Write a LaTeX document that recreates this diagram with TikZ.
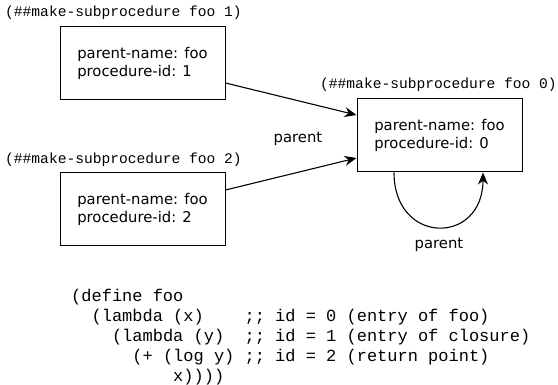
\documentclass[tikz,border=0pt]{standalone}
\usepackage{fontspec}
\setmainfont{DejaVu Sans}
\newfontfamily\codefont{Liberation Mono}
\usepackage{tikz}
\usetikzlibrary{arrows.meta}
\usetikzlibrary{positioning}

\begin{document}
\begin{tikzpicture}[x=1pt,y=-1pt,
		procbox/.style={draw,line width=1pt,minimum width=165pt,minimum height=73pt,align=left,font=\fontsize{14.8}{18}\selectfont},
		calltag/.style={font=\codefont\fontsize{14.6}{17}\selectfont,inner sep=0pt,anchor=west},
		codetext/.style={font=\codefont\fontsize{17}{20}\selectfont,inner sep=0pt,align=left,anchor=north west},
		ptr/.style={-{Stealth[length=12pt,width=10pt]},line width=1.1pt}]
			\useasboundingbox (0,0) rectangle (558,385);

			\node[procbox] (sub1) at (142.5,63) {parent-name: foo\\procedure-id: 1};
			\node[calltag] (tag1) at (5,13) {(\#\#make-subprocedure foo 1)};
			\node[procbox] (sub2) at (142.5,209.5) {parent-name: foo\\procedure-id: 2};
			\node[calltag] (tag2) at (5,160) {(\#\#make-subprocedure foo 2)};
			\node[procbox] (foo) at (439.5,135.5) {parent-name: foo\\procedure-id: 0};
			\node[calltag] (tag0) at (320,85) {(\#\#make-subprocedure foo 0)};

			\draw[ptr] ([yshift=-20pt]sub1.east) -- ([yshift=20.5pt]foo.west);
			\draw[ptr] ([yshift=19.5pt]sub2.east) -- ([yshift=-22.5pt]foo.west);
			\node[font=\fontsize{14.8}{18}\selectfont] (up) at (298,139) {parent};

			\draw[ptr] ([xshift=-45.5pt]foo.south) to[out=-90,in=-90,looseness=2.1] ([xshift=43.5pt]foo.south);
			\node[font=\fontsize{14.8}{18}\selectfont] (self) at (439,245) {parent};

			\node[codetext] (src) at (71,289) {(define foo\\
				~~(lambda (x)~~~~;; id = 0 (entry of foo)\\
				~~~~(lambda (y)~~;; id = 1 (entry of closure)\\
				~~~~~~(+ (log y) ;; id = 2 (return point)\\
				~~~~~~~~~~x))))};
		\end{tikzpicture}
\end{document}
